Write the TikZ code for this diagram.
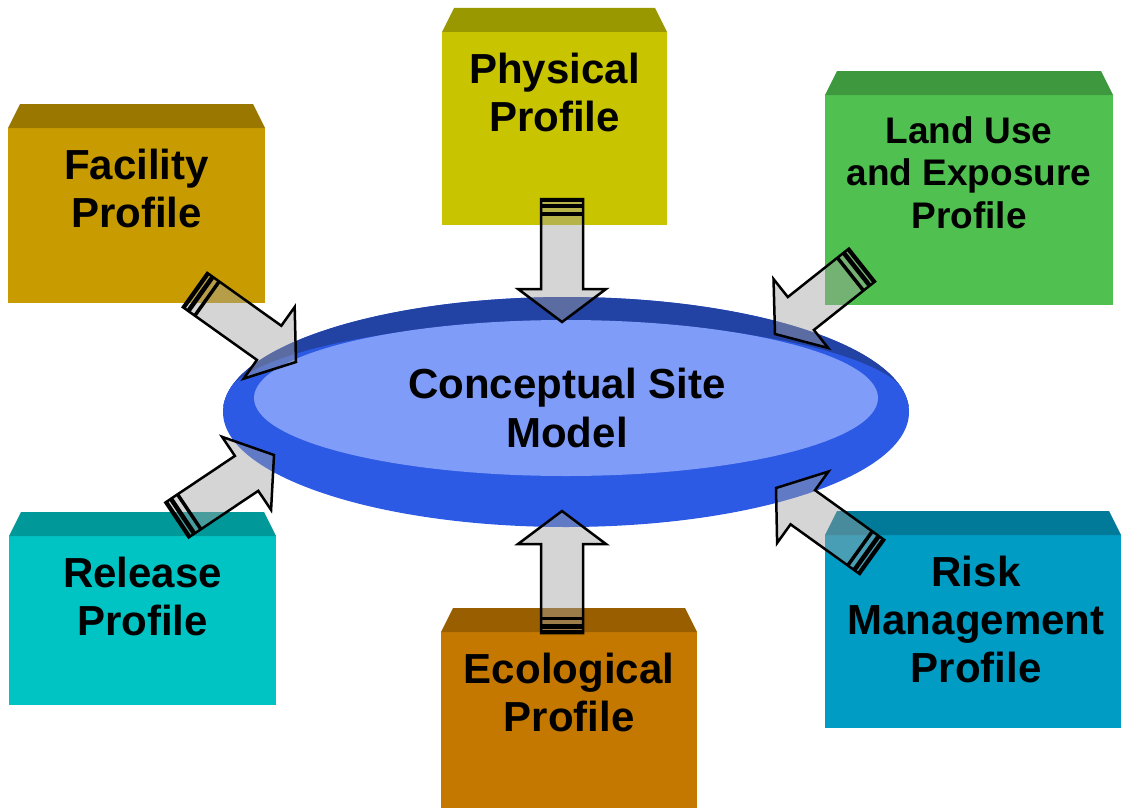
\documentclass[tikz,border=0pt]{standalone}
\usepackage{fontspec}
\setmainfont{Liberation Sans}
\usepackage{tikz}
\usetikzlibrary{positioning,calc,shapes.geometric}
\usepackage{xcolor}

\definecolor{facilityfront}{HTML}{C89C00}
\definecolor{facilitytop}{HTML}{9A7800}
\definecolor{physicalfront}{HTML}{C8C400}
\definecolor{physicaltop}{HTML}{9A9800}
\definecolor{landfront}{HTML}{50C150}
\definecolor{landtop}{HTML}{3E983E}
\definecolor{releasefront}{HTML}{00C4C4}
\definecolor{releasetop}{HTML}{009898}
\definecolor{ecofront}{HTML}{C47800}
\definecolor{ecotop}{HTML}{985E00}
\definecolor{riskfront}{HTML}{009CC4}
\definecolor{risktop}{HTML}{007A98}
\definecolor{rimdark}{HTML}{2242A4}
\definecolor{rimbright}{HTML}{2D5AE4}
\definecolor{discface}{HTML}{7E9CF8}

% fat arrow from #1 (striped tail) to #2 (tip)
\newcommand{\blockarrow}[2]{%
  \coordinate (head) at ($(#2)!33pt!(#1)$);
  \draw[flowarrow] ($(#1)!21pt!90:(#2)$) -- ($(head)!21pt!-90:(#1)$)
    -- ($(head)!44pt!-90:(#1)$) -- (#2) -- ($(head)!44pt!90:(#1)$)
    -- ($(head)!21pt!90:(#1)$) -- ($(#1)!21pt!-90:(#2)$) -- cycle;
  \foreach \d/\w in {1.5pt/3pt, 6.75pt/4.5pt, 14.75pt/3.5pt} {
    \coordinate (band) at ($(#1)!\d!(#2)$);
    \draw[line width=\w] ($(band)!21pt!90:(#2)$) -- ($(band)!21pt!-90:(#2)$);
  }%
}

\begin{document}
\begin{tikzpicture}[
        x=1pt, y=-1pt,
        face/.style={rectangle, draw=none, inner sep=0pt, outer sep=0pt},
        boxtext/.style={font=\fontsize{42}{48}\selectfont\bfseries, align=center, inner sep=0pt},
        disc/.style={ellipse, draw=none, inner sep=0pt, outer sep=0pt},
        flowarrow/.style={draw=black, line width=2.5pt, line join=miter, fill=black!37, fill opacity=0.45}
    ]
        \useasboundingbox (0,0) rectangle (1121,808);

        % Front faces of the profile boxes
        \node[face, fill=facilityfront, minimum width=257pt, minimum height=175pt] (facility) at (136.5,215.5) {};
        \node[face, fill=physicalfront, minimum width=225pt, minimum height=193pt] (physical) at (554.5,128.5) {};
        \node[face, fill=landfront, minimum width=288pt, minimum height=210pt] (landuse) at (969,200) {};
        \node[face, fill=releasefront, minimum width=267pt, minimum height=169pt] (release) at (142.5,620.5) {};
        \node[face, fill=ecofront, minimum width=256pt, minimum height=176pt] (ecological) at (569,720) {};
        \node[face, fill=riskfront, minimum width=296pt, minimum height=193pt] (risk) at (973,631.5) {};

        % Top faces
        \fill[facilitytop] (facility.north west) -- ++(12,-24) -- ($(facility.north east)+(-12,-24)$) -- (facility.north east) -- cycle;
        \fill[physicaltop] (physical.north west) -- ++(12,-24) -- ($(physical.north east)+(-12,-24)$) -- (physical.north east) -- cycle;
        \fill[landtop] (landuse.north west) -- ++(12,-24) -- ($(landuse.north east)+(-12,-24)$) -- (landuse.north east) -- cycle;
        \fill[releasetop] (release.north west) -- ++(12,-24) -- ($(release.north east)+(-12,-24)$) -- (release.north east) -- cycle;
        \fill[ecotop] (ecological.north west) -- ++(12,-24) -- ($(ecological.north east)+(-12,-24)$) -- (ecological.north east) -- cycle;
        \fill[risktop] (risk.north west) -- ++(12,-24) -- ($(risk.north east)+(-12,-24)$) -- (risk.north east) -- cycle;

        % Box labels
        \node[boxtext, below=21pt of facility.north] (facilitytext) {Facility\\Profile};
        \node[boxtext, below=21pt of physical.north] (physicaltext) {Physical\\Profile};
        \node[boxtext, font=\fontsize{37}{42.5}\selectfont\bfseries, below=21pt of landuse.north] (landusetext) {Land Use\\and Exposure\\Profile};
        \node[boxtext, below=21pt of release.north] (releasetext) {Release\\Profile};
        \node[boxtext, below=21pt of ecological.north] (ecologicaltext) {Ecological\\Profile};
        \node[boxtext, below=21pt of risk.north, xshift=3pt] (risktext) {Risk\\Management\\Profile};

        % Central disc: rim, darker upper edge, top face
        \node[disc, fill=rimbright, minimum width=686pt, minimum height=230pt] (csm) at (566,412) {};
        \begin{scope}
            \clip (csm.center) ellipse [x radius=343, y radius=115];
            \clip (200,280) rectangle (930,406);
            \fill[rimdark] (200,280) rectangle (930,406);
            \fill[rimbright] (566,406) ellipse [x radius=345, y radius=84];
        \end{scope}
        \node[disc, fill=discface, minimum width=624pt, minimum height=156pt] (csmtop) at (566,398) {};
        \node[boxtext, font=\fontsize{42}{49}\selectfont\bfseries] (csmlabel) at (567,408) {Conceptual Site\\Model};

        % Arrow ends
        \coordinate (facilitytail) at (195,290);
        \coordinate (facilitytip) at (296,362);
        \coordinate (physicaltail) at (562,199);
        \coordinate (physicaltip) at (562,322);
        \coordinate (landusetail) at (862,265);
        \coordinate (landusetip) at (775,334);
        \coordinate (releasetail) at (177,520);
        \coordinate (releasetip) at (274,455);
        \coordinate (ecologicaltail) at (562,633);
        \coordinate (ecologicaltip) at (562,511);
        \coordinate (risktail) at (872,557);
        \coordinate (risktip) at (776,488);

        % Arrows into the site model
        \blockarrow{facilitytail}{facilitytip}
        \blockarrow{physicaltail}{physicaltip}
        \blockarrow{landusetail}{landusetip}
        \blockarrow{releasetail}{releasetip}
        \blockarrow{ecologicaltail}{ecologicaltip}
        \blockarrow{risktail}{risktip}

    \end{tikzpicture}
\end{document}
